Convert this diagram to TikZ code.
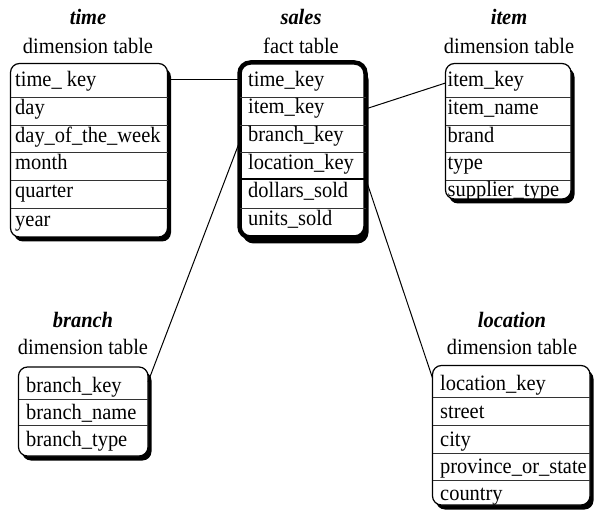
\documentclass[tikz,border=0pt]{standalone}
\usepackage{fontspec}
\setmainfont{Liberation Serif}[FakeStretch=0.93]
\usetikzlibrary{shadows}
\begin{document}
\begin{tikzpicture}[x=1pt,y=-1pt,
  every node/.style={font=\fontsize{22}{26}\selectfont},
  tbl/.style={draw, line width=1.2pt, rounded corners=9pt, fill=white,
    inner sep=0pt, outer sep=0pt, anchor=north west,
    drop shadow={shadow xshift=3.5pt, shadow yshift=-4.5pt, opacity=1, fill=black}},
  facttbl/.style={draw, line width=4.5pt, rounded corners=11pt, fill=white,
    inner sep=0pt, outer sep=0pt, anchor=north west,
    drop shadow={shadow xshift=3pt, shadow yshift=-6pt, opacity=1, fill=black}},
  fld/.style={anchor=base west, inner sep=0pt},
  ttl/.style={anchor=base, inner sep=0pt},
  sep/.style={line width=0.8pt, draw=black!80},
  thicksep/.style={line width=2.5pt},
  conn/.style={line width=1pt}]
\useasboundingbox (0,0) rectangle (595,513);

% ---------- frames ----------
\node[tbl, minimum width=157pt, minimum height=173.5pt] (timeT) at (10.5,63.5) {};
\node[facttbl, minimum width=126pt, minimum height=175pt] (salesT) at (239.5,62.5) {};
\node[tbl, minimum width=125.5pt, minimum height=135.5pt] (itemT) at (445.5,63.5) {};
\node[tbl, minimum width=129.5pt, minimum height=89pt] (branchT) at (18.5,367) {};
\node[tbl, minimum width=157.5pt, minimum height=139.5pt] (locT) at (432.5,365.5) {};

% ---------- titles ----------
\node[ttl] (timeTitle) at (88,25) {\bfseries\itshape time};
\node[ttl] (timeSub) at (88,54) {dimension table};
\node[ttl] (salesTitle) at (301,25) {\bfseries\itshape sales};
\node[ttl] (salesSub) at (301,54) {fact table};
\node[ttl] (itemTitle) at (509,25) {\bfseries\itshape item};
\node[ttl] (itemSub) at (509,54) {dimension table};
\node[ttl] (branchTitle) at (83,327) {\bfseries\itshape branch};
\node[ttl] (branchSub) at (83,355) {dimension table};
\node[ttl] (locTitle) at (512,327) {\bfseries\itshape location};
\node[ttl] (locSub) at (512,355) {dimension table};

% ---------- time rows ----------
\foreach \y in {97,125,152,180,208}
  \draw[sep] (timeT.west |- 0,\y) -- (timeT.east |- 0,\y);
\node[fld] (t1) at (15,87) {time\_ key};
\node[fld] (t2) at (15,115) {day};
\node[fld] (t3) at (15,143) {day\_of\_the\_week};
\node[fld] (t4) at (15,170) {month};
\node[fld] (t5) at (15,198) {quarter};
\node[fld] (t6) at (15,227) {year};

% ---------- sales rows ----------
\foreach \y in {97,125,152,208}
  \draw[sep] (salesT.west |- 0,\y) -- (salesT.east |- 0,\y);
\draw[thicksep] (salesT.west |- 0,179) -- (salesT.east |- 0,179);
\node[fld] (s1) at (248,87) {time\_key};
\node[fld] (s2) at (248,114) {item\_key};
\node[fld] (s3) at (248,142) {branch\_key};
\node[fld] (s4) at (248,170) {location\_key};
\node[fld] (s5) at (248,198) {dollars\_sold};
\node[fld] (s6) at (248,226) {units\_sold};

% ---------- item rows ----------
\foreach \y in {97,125,152,180}
  \draw[sep] (itemT.west |- 0,\y) -- (itemT.east |- 0,\y);
\node[fld] (i1) at (447.5,87) {item\_key};
\node[fld] (i2) at (447.5,115) {item\_name};
\node[fld] (i3) at (447.5,143) {brand};
\node[fld] (i4) at (447.5,170) {type};
\node[fld] (i5) at (447.5,197) {supplier\_type};

% ---------- branch rows ----------
\foreach \y in {399,425}
  \draw[sep] (branchT.west |- 0,\y) -- (branchT.east |- 0,\y);
\node[fld] (b1) at (26,392) {branch\_key};
\node[fld] (b2) at (26,419) {branch\_name};
\node[fld] (b3) at (26,446) {branch\_type};

% ---------- location rows ----------
\foreach \y in {397,425,453,480}
  \draw[sep] (locT.west |- 0,\y) -- (locT.east |- 0,\y);
\node[fld] (l1) at (440,390) {location\_key};
\node[fld] (l2) at (440,418) {street};
\node[fld] (l3) at (440,446) {city};
\node[fld] (l4) at (440,473) {province\_or\_state};
\node[fld] (l5) at (440,500) {country};

% ---------- connectors ----------
\draw[conn] (timeT.east |- 0,80) -- (salesT.west |- 0,80);
\draw[conn] (salesT.east |- 0,109) -- (itemT.west |- 0,83);
\draw[conn] (salesT.west |- 0,142) -- (branchT.east |- 0,382);
\draw[conn] (salesT.east |- 0,178) -- (locT.west |- 0,378);
\end{tikzpicture}
\end{document}
